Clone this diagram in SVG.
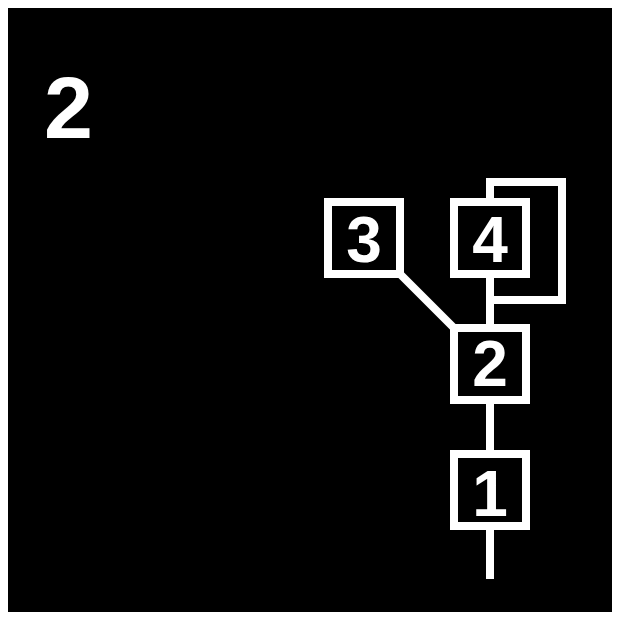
<svg xmlns="http://www.w3.org/2000/svg" width="620" height="620" viewBox="0 0 620 620">
<style>
.box{fill:#000;stroke:#fff;stroke-width:8}
.edge{stroke:#fff;stroke-width:8;fill:none}
.lbl{fill:#fff;font-family:"Liberation Sans",Arial,sans-serif;font-weight:bold;font-size:64px;text-anchor:middle}
</style>
<rect x="0" y="0" width="620" height="620" fill="#fff"/>
<rect x="8" y="8" width="604" height="604" fill="#000"/>
<text x="44" y="138" fill="#fff" font-family="'Liberation Sans',Arial,sans-serif" font-weight="bold" font-size="88">2</text>
<g id="connectors">
<line class="edge" x1="490" y1="278" x2="490" y2="324"/>
<line class="edge" x1="490" y1="404" x2="490" y2="450"/>
<line class="edge" x1="490" y1="530" x2="490" y2="579"/>
<line class="edge" stroke-width="7" x1="400" y1="274" x2="454" y2="328"/>
<rect class="edge" x="490" y="182" width="72" height="118"/>
</g>
<g id="node3"><rect class="box" x="328" y="202" width="72" height="72"/><text class="lbl" x="364" y="262">3</text></g>
<g id="node4"><rect class="box" x="454" y="202" width="72" height="72"/><text class="lbl" x="490" y="262">4</text></g>
<g id="node2"><rect class="box" x="454" y="328" width="72" height="72"/><text class="lbl" x="490" y="386">2</text></g>
<g id="node1"><rect class="box" x="454" y="454" width="72" height="72"/><text class="lbl" x="490" y="516" font-size="70">1</text></g>
</svg>
